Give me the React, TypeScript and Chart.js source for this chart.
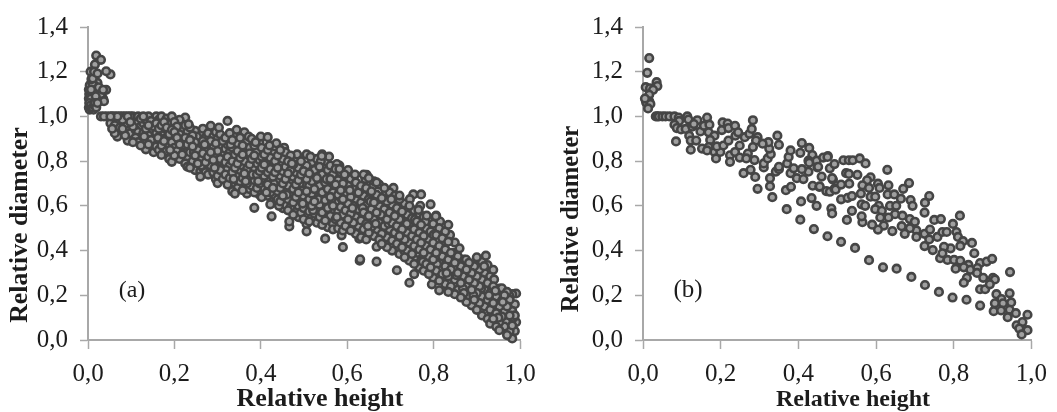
import React, { useEffect, useRef } from "react";
import { Chart, registerables } from "chart.js";

Chart.register(...registerables);

const yTickLabels = ["0,0", "0,2", "0,4", "0,6", "0,8", "1,0", "1,2", "1,4"];
const xTickLabels = ["0,0", "0,2", "0,4", "0,6", "0,8", "1,0"];
const xTitle = "Relative height";
const yTitle = "Relative diameter";

// Panel (a): each row is a height followed by the diameters read at that height.
const columnsA: number[][] = [
  [.002,1.04,1.08,1.12],[.004,1.03,1.06,1.1,1.14],[.006,1.05,1.09,1.13,1.2],[.008,1.035,1.07,1.11,1.167],
  [.011,1.04,1.08,1.12,1.17],[.014,1.05,1.1,1.14,1.2],[.016,1.06,1.075,1.232],[.019,1.272,1.04,1.12,1.1],
  [.022,1.192,1.06,1.15],[.025,1.09,1.13],[.03,1.253,1.07,1.1,1],[.035,1.119,1.08],[.037,1.068,1],[.042,1.202,1.119],
  [.044,1],[.052,1.188,1,.97],[.056,1,.945],[.062,1,.96,.925],[.068,1,.975,.91],[.074,1,.95,.93],[.08,1,.985,.945],
  [.086,1,.965,.915],[.092,1,.94,.892],[.098,1,.975,.925],[.104,1,.955,.885],[.11,.995,.94,.905],[.116,1,.975,.93,.885],
  [.122,.99,.955,.905,.87],[.128,1,.97,.925],[.134,.985,.945,.89,.853],[.14,1,.96,.915,.875],[.146,.98,.935,.895],
  [.152,.99,.955,.91,.84],[.158,1,.97,.925,.865],[.164,.985,.945,.89,.85],[.17,1,.96,.915,.87,.828],[.176,.975,.93,.89],
  [.182,.99,.95,.905,.845],[.188,.965,.92,.87,.81],[.194,1,.94,.885,.797],[.2,.975,.93,.86,.825],[.206,.955,.905,.845],
  [.212,.985,.92,.875,.81],[.218,.94,.89,.83],[.225,.995,.96,.905,.85,.79],[.23,.93,.875,.815,.775],[.236,.95,.895,.84,.771],
  [.242,.915,.865,.8],[.248,.935,.885,.825,.76],[.254,.9,.85,.79],[.26,.925,.87,.81,.731,.755],[.266,.945,.89,.835,.77],
  [.272,.905,.855,.795,.75],[.278,.925,.875,.82,.74],[.284,.958,.89,.84,.78],[.29,.91,.86,.805,.75],[.296,.93,.88,.82,.72],
  [.3,.9,.845,.78,.702,.735],[.306,.92,.865,.81,.76],[.312,.89,.835,.77,.72],[.318,.905,.855,.795,.74],[.323,.98,.875,.82,.695],
  [.328,.925,.84,.78,.725],[.334,.895,.86,.8,.75,.665],[.34,.915,.83,.77,.655,.7],[.346,.88,.845,.79,.735,.68],[.352,.905,.815,.76,.71],
  [.358,.87,.83,.78,.725,.67],[.362,.929,.85,.8,.745],[.368,.89,.82,.765,.7,.655],[.374,.86,.835,.785,.73,.675],[.379,.9,.81,.75,.69],
  [.385,.87,.825,.77,.715,.66,.591],[.391,.845,.79,.74,.68],[.397,.885,.805,.755,.7,.65],[.402,.86,.82,.77,.72,.639],[.408,.83,.785,.735,.675],
  [.416,.907,.85,.8,.75,.695,.645],[.422,.87,.815,.765,.715,.607,.66],[.425,.553],[.428,.84,.78,.73,.68,.62],[.433,.866,.8,.75,.695,.645],
  [.439,.825,.77,.715,.629,.665],[.445,.85,.79,.735,.68,.62],[.451,.81,.755,.7,.645,.59],[.457,.84,.775,.72,.665,.605],[.463,.8,.745,.69,.63,.58],
  [.466,.53,.508],[.469,.825,.76,.705,.65,.595],[.475,.785,.73,.675,.615,.56],[.481,.81,.75,.695,.64,.58],[.487,.77,.715,.66,.6,.55],
  [.493,.8,.74,.68,.625,.57],[.499,.755,.7,.645,.59,.54],[.506,.83,.78,.72,.665,.61,.519,.486],[.512,.745,.69,.63,.575,.53],[.518,.795,.71,.655,.6,.55],
  [.524,.76,.675,.62,.565],[.53,.81,.725,.64,.585,.525],[.536,.775,.69,.605,.55],[.542,.83,.74,.66,.57,.515],[.549,.8,.705,.625,.535,.453],
  [.555,.76,.675,.59,.505],[.561,.78,.72,.64,.555],[.567,.74,.66,.6,.52,.495],[.573,.765,.695,.615,.54],[.579,.715,.65,.575,.5],
  [.585,.75,.67,.595,.525],[.59,.7,.63,.56,.415,.49],[.596,.735,.655,.58,.51],[.602,.76,.69,.61,.54],[.608,.72,.64,.565,.49],
  [.614,.675,.6,.525],[.62,.705,.625,.55,.475],[.626,.66,.585,.51],[.629,.355],[.632,.69,.615,.535,.46],[.638,.74,.645,.57,.495],
  [.644,.68,.6,.52,.45],[.65,.725,.63,.555,.48],[.656,.665,.585,.505],[.662,.71,.615,.54,.465],[.668,.65,.57,.49,.351],
  [.674,.695,.6,.525,.45],[.68,.635,.555,.475,.43],[.686,.68,.585,.51],[.692,.62,.54,.46,.415],[.698,.66,.57,.495],
  [.704,.605,.525,.445,.4],[.707,.68],[.71,.645,.555,.48],[.715,.59,.51,.43,.312],[.721,.63,.54,.465,.385],[.727,.575,.495,.415],
  [.733,.61,.525,.45,.37],[.739,.56,.48,.4],[.744,.6,.51,.435,.256,.355],[.75,.545,.465,.385],[.753,.651],[.755,.58,.495,.42,.295,.34],
  [.761,.53,.45,.37],[.767,.565,.48,.405,.325],[.771,.651,.515,.435,.355],[.777,.55,.465,.39,.31],[.783,.5,.42,.34],[.789,.535,.45,.375,.295],
  [.793,.607,.485,.405,.325],[.796,.249],[.799,.52,.435,.36,.28],[.806,.556,.47,.39,.31],[.813,.5,.42,.345,.222,.265],[.82,.455,.375,.295],
  [.827,.485,.405,.33,.25],[.834,.515,.44,.36,.285,.215],[.84,.39,.315,.24],[.849,.436,.345,.27,.205],[.856,.375,.3,.225],[.863,.33,.255,.19],
  [.87,.36,.285,.21],[.876,.315,.24,.17],[.882,.345,.27,.176,.2],[.888,.3,.225,.155],[.894,.33,.255,.18],[.9,.37,.285,.21,.135],
  [.906,.315,.24,.165],[.912,.35,.27,.195,.11],[.918,.3,.225,.15],[.921,.377],[.925,.335,.255,.18,.095],[.931,.285,.21,.135,.073],
  [.938,.314,.24,.165,.095],[.94,.271],[.945,.195,.12,.06],[.952,.23,.15,.08,.044],[.958,.231,.175,.105],[.964,.2,.13,.06],
  [.97,.215,.15,.085,.022],[.976,.18,.11,.04],[.982,.205,.13,.065,.007],[.988,.16,.11,.04],[.991,.208,.08],
];

// Panel (a): further readings inside the dense band and along its edges.
const extraA: number[][] = [
  [.003,1.06,1.1],[.007,1.04,1.08,1.12],[.01,1.06,1.1,1.15],[.013,1.03,1.08],[.018,1.05,1.09],
  [.13,.91],[.15,.965],[.162,.905],[.178,.945],[.19,.85],[.203,.895],[.215,.95],[.224,.87],[.233,.965],[.245,.84],[.252,.91],[.262,.78],
  [.27,.875],[.281,.8],[.288,.93],[.293,.77],[.303,.95],[.31,.79],[.32,.76],[.33,.875],[.337,.72],[.344,.94],[.35,.69],[.356,.84],[.365,.71],
  [.372,.91],[.381,.74],[.388,.885],[.394,.71],[.4,.91],[.406,.79],[.413,.66],[.42,.87],[.43,.7],[.436,.88],[.442,.6],[.448,.72],[.454,.86],
  [.46,.65],[.472,.79],[.478,.63],[.484,.83],[.49,.7],[.497,.61],[.503,.76],[.51,.66],[.515,.82],[.521,.58],[.527,.72],[.533,.63],[.539,.8],
  [.541,.823],[.545,.6],[.552,.72],[.558,.82],[.564,.63],[.57,.7],[.576,.787,.55],[.582,.765,.78],[.587,.468],[.588,.63],[.594,.74],[.6,.53],
  [.606,.67],[.612,.59],[.618,.74],[.624,.53],[.628,.453],[.63,.67,.361],[.636,.59],[.642,.72],[.645,.739],[.648,.51],[.654,.62],[.66,.69],
  [.666,.52],[.668,.705,.417],[.672,.63],[.678,.56],[.684,.49],[.69,.66],[.696,.52],[.702,.63],[.708,.47],[.714,.64],[.72,.5],[.721,.646],
  [.726,.611],[.732,.4],[.738,.52],[.745,.63],[.751,.44],[.757,.54],[.763,.39],[.765,.582],[.769,.6],[.775,.35],[.781,.53],[.784,.556],[.787,.41],
  [.79,.3],[.8,.47],[.805,.553],[.808,.34],[.815,.53],[.823,.41],[.83,.3],[.838,.47],[.845,.39],[.853,.29],[.86,.41],[.868,.23],[.875,.36],
  [.884,.3],[.892,.2],[.9,.31],[.91,.23],[.917,.33],[.928,.2],[.935,.12],[.943,.22],[.95,.1],[.96,.17],[.968,.08],[.975,.2],[.985,.1],
];

// Panel (b): height, diameter pairs.
const pointsB: number[][] = [
  [.016,1.261],[.011,1.195],[.007,1.131],[.018,1.126],[.035,1.153],[.037,1.136],[.026,1.119],[.016,1.097],[.016,1.068],[.008,1.063],[.019,1.056],[.013,1.036],[.005,1.08],
  [.033,1],[.037,1],[.041,1],[.05,1],[.058,1],[.068,1],[.081,1],[.092,.995],[.114,1],[.165,.995],
  [.14,.983],[.117,.986],[.093,.98],[.081,.963],[.087,.948],[.098,.942],[.11,.944],[.127,.954],[.131,.966],[.148,.933],[.119,.914],[.123,.892],[.137,.892],[.085,.888],[.123,.851],
  [.157,.958],[.171,.963],[.169,.929],[.184,.914],[.173,.895],[.152,.856],[.169,.863],[.165,.848],[.184,.841],[.188,.812],[.199,.841],[.19,.866],[.207,.87],[.22,.892],[.203,.939],
  [.205,.973],[.218,.968],[.22,.948],[.237,.958],[.238,.914],[.245,.929],[.224,.826],[.224,.797],[.237,.841],[.249,.87],[.262,.907],[.274,.922],[.283,.983],[.28,.944],[.295,.907],
  [.291,.892],[.283,.863],[.27,.834],[.249,.816],[.266,.812],[.287,.805],[.311,.772],[.311,.79],[.321,.812],[.329,.831],[.325,.856],[.323,.885],[.346,.914],[.35,.873],[.308,.878],
  [.259,.746],[.277,.761],[.289,.729],[.295,.676],[.327,.724],[.327,.688],[.333,.639],[.342,.753],[.35,.764],[.35,.775],[.37,.585],[.368,.67],[.381,.685],[.38,.746],[.396,.724],
  [.413,.72],[.426,.753],[.409,.764],[.388,.768],[.371,.79],[.375,.819],[.38,.848],[.405,.837],[.409,.881],[.428,.859],[.436,.827],[.426,.802],[.428,.793],[.447,.802],[.449,.772],
  [.46,.731],[.437,.69],[.454,.685],[.472,.666],[.481,.663],[.493,.676],[.489,.717],[.481,.768],[.476,.822],[.464,.816],[.407,.62],[.434,.635],[.447,.6],[.405,.538],[.44,.496],
  [.475,.464],[.485,.588],[.487,.566],[.475,.819],[.451,.775],[.493,.787],[.487,.724],[.455,.687],[.496,.673],[.51,.695],[.531,.699],[.51,.629],[.527,.636],[.538,.644],[.523,.746],
  [.53,.743],[.552,.739],[.516,.804],[.53,.804],[.54,.804],[.558,.812],[.573,.79],[.629,.761],[.586,.728],[.577,.714],[.565,.692],[.582,.68],[.561,.655],[.586,.641],[.598,.641],
  [.605,.699],[.609,.68],[.632,.692],[.63,.651],[.647,.651],[.664,.632],[.685,.702],[.67,.676],[.689,.626],[.694,.6],[.737,.644],[.726,.614],[.725,.57],[.75,.537],[.767,.541],
  [.607,.6],[.563,.607],[.572,.6],[.598,.585],[.615,.578],[.636,.6],[.652,.6],[.649,.563],[.632,.548],[.611,.548],[.668,.556],[.687,.541],[.7,.529],[.704,.49],[.687,.5],[.666,.509],
  [.642,.487],[.62,.512],[.605,.494],[.59,.516],[.565,.527],[.563,.553],[.538,.578],[.525,.537],[.51,.439],[.546,.412],[.582,.357],[.618,.325],[.653,.319],[.674,.475],[.704,.461],
  [.725,.475],[.739,.494],[.737,.45],[.758,.461],[.771,.483],[.725,.42],[.746,.402],[.765,.366],[.691,.282],[.726,.246],[.762,.215],[.797,.19],[.833,.18],[.868,.154],
  [.782,.483],[.798,.519],[.816,.556],[.807,.483],[.811,.461],[.824,.442],[.847,.434],[.853,.388],[.817,.421],[.792,.41],[.775,.417],[.771,.388],[.784,.358],[.801,.358],[.817,.354],
  [.838,.336],[.868,.344],[.885,.351],[.899,.363],[.805,.319],[.826,.325],[.843,.314],[.861,.322],[.834,.278],[.826,.256],[.86,.3],[.876,.278],[.901,.278],[.906,.271],[.868,.227],
  [.881,.227],[.893,.249],[.91,.205],[.923,.183],[.944,.209],[.945,.304],[.948,.168],[.906,.164],[.927,.164],[.903,.129],[.922,.132],[.944,.135],[.939,.102],[.96,.12],[.99,.113],
  [.962,.066],[.977,.08],[.99,.044],[.969,.051],[.975,.025],
];

const AXIS = "#a8a8a8";
const TEXT = "#1c1c1c";

interface PanelStyle {
  left: number; right: number; panel: string; panelX: number; panelY: number; panelSize: number;
  titleX: number; titleY: number; titleSize: number;
  yTitleX: number; yTitleY: number; yTitleSize: number;
}

function makeChart(canvas: HTMLCanvasElement, data: { x: number; y: number }[], p: PanelStyle) {
  const captions = {
    id: "captions",
    afterDraw(c: Chart) {
      const g = c.ctx;
      g.save();
      g.fillStyle = TEXT;
      g.textAlign = "center";
      g.textBaseline = "middle";
      g.font = `${p.panelSize}px 'Liberation Serif'`;
      g.fillText(p.panel, p.panelX, p.panelY);
      g.font = `bold ${p.titleSize}px 'Liberation Serif'`;
      g.fillText(xTitle, p.titleX, p.titleY);
      g.font = `bold ${p.yTitleSize}px 'Liberation Serif'`;
      g.translate(p.yTitleX, p.yTitleY);
      g.rotate(-Math.PI / 2);
      g.fillText(yTitle, 0, 0);
      g.restore();
    },
  };
  return new Chart(canvas, {
    type: "scatter",
    data: {
      datasets: [
        {
          data,
          pointRadius: 3.8,
          pointBorderWidth: 2.6,
          pointBackgroundColor: "#a0a0a0",
          pointBorderColor: "#454545",
          clip: false,
        } as any,
      ],
    },
    plugins: [captions],
    options: {
      animation: false,
      responsive: false,
      devicePixelRatio: 1,
      layout: { padding: { top: 22, right: p.right, left: 0, bottom: 0 } },
      plugins: { legend: { display: false }, tooltip: { enabled: false } },
      scales: {
        x: {
          type: "linear",
          min: 0,
          max: 1,
          ticks: {
            stepSize: 0.2,
            maxRotation: 0,
            padding: 10,
            color: TEXT,
            font: { family: "'Liberation Serif'", size: 25 },
            callback: (_v: any, i: number) => xTickLabels[i],
          },
          grid: { drawOnChartArea: false, tickLength: 9, tickColor: AXIS, tickWidth: 1.5 },
          border: { color: AXIS, width: 2 },
          afterFit: (s: any) => { s.height = 72; },
        },
        y: {
          type: "linear",
          min: 0,
          max: 1.4,
          ticks: {
            stepSize: 0.2,
            padding: 12,
            color: TEXT,
            font: { family: "'Liberation Serif'", size: 25 },
            callback: (_v: any, i: number) => yTickLabels[i],
          },
          grid: { drawOnChartArea: false, tickLength: 8, tickColor: AXIS, tickWidth: 1.5 },
          border: { color: AXIS, width: 2 },
          afterFit: (s: any) => { s.width = p.left; },
        },
      },
    } as any,
  });
}

export default function App() {
  const a = useRef<HTMLCanvasElement>(null);
  const b = useRef<HTMLCanvasElement>(null);
  useEffect(() => {
    const all = [...columnsA, ...extraA].flatMap(([x, ...ys]) => ys.map((y) => ({ x, y })));
    // Painting order only: the marks overlap in no particular sequence in the reference.
    const dataA = all
      .map((pt, i) => ({ pt, key: (i * 211) % all.length }))
      .sort((m, n) => m.key - n.key)
      .map((m) => m.pt);
    const dataB = pointsB.map(([x, y]) => ({ x, y }));
    const ca = makeChart(a.current!, dataA, {
      left: 88, right: 30, panel: "(a)", panelX: 132, panelY: 291, panelSize: 24,
      titleX: 320, titleY: 399, titleSize: 26, yTitleX: 20, yTitleY: 225, yTitleSize: 25.8,
    });
    const cb = makeChart(b.current!, dataB, {
      left: 103, right: 18, panel: "(b)", panelX: 148, panelY: 290, panelSize: 25,
      titleX: 313, titleY: 400, titleSize: 24, yTitleX: 32, yTitleY: 219, yTitleSize: 24.6,
    });
    return () => {
      ca.destroy();
      cb.destroy();
    };
  }, []);
  const style = (left: number, width: number): React.CSSProperties => ({
    position: "absolute",
    left,
    top: 0,
    width,
    height: 412,
    filter: "blur(0.45px)",
  });
  return (
    <div style={{ position: "fixed", left: 0, top: 0, width: 1057, height: 412, background: "#fff" }}>
      <canvas ref={a} width={550} height={412} style={style(0, 550)} />
      <canvas ref={b} width={517} height={412} style={style(540, 517)} />
    </div>
  );
}
